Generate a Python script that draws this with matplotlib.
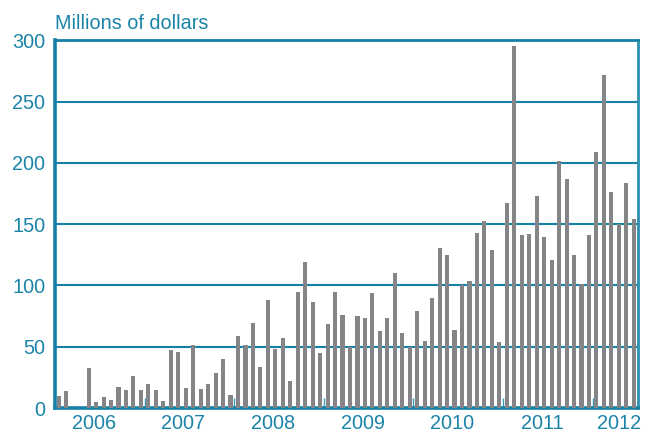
import matplotlib.pyplot as plt
import matplotlib.transforms as mtransforms
import numpy as np

plt.rcParams['font.family'] = ['Liberation Sans', 'DejaVu Sans']

# monthly values, Jan 2006 .. Jun 2012 (millions of dollars)
v2006 = [9.5, 13.6, 0, 0, 33, 4.6, 8.7, 6.3, 17, 14.7, 26, 15]
v2007 = [19.4, 14.5, 5.4, 47, 45.5, 16, 51.7, 15.8, 19.9, 28.8, 40.3, 10.9]
v2008 = [59, 51.7, 69.7, 33.7, 88.5, 47.9, 57.4, 22.3, 95, 119.5, 86.3, 45.2]
v2009 = [68.9, 94.3, 75.7, 49.8, 74.9, 73.3, 93.7, 62.6, 73.3, 110, 61, 49.8]
v2010 = [79, 54.5, 89.6, 130.5, 124.7, 63.5, 100.2, 103.3, 142.5, 152.8, 129.1, 54.1]
v2011 = [167.5, 295.5, 141.4, 142.2, 173.2, 139.7, 121, 201.7, 187, 125, 101.4, 141.4]
v2012 = [209, 271.9, 176.4, 150.3, 183.8, 154.4]
years = ['2006', '2007', '2008', '2009', '2010', '2011', '2012']
yticks = [0, 50, 100, 150, 200, 250, 300]

values = v2006 + v2007 + v2008 + v2009 + v2010 + v2011 + v2012
months = np.arange(len(values)) + 0.5

teal = '#1581a6'
txt = '#1a84a8'
grey = '#858588'

fig = plt.figure(figsize=(6.45, 4.34), dpi=100)
ax = fig.add_axes([0.0853, 0.0599, 0.9031, 0.8468])

ax.bar(months, values, width=0.55, color=grey, zorder=3)

ax.set_xlim(0, len(values))
ax.set_ylim(0, 300)
ax.set_yticks(yticks)
ax.set_yticklabels([str(t) for t in yticks])
for t in yticks[1:-1]:
    ax.axhline(t, color=teal, lw=1.5, zorder=1)

# year boundaries as small inward ticks
ax.set_xticks([12 * i for i in range(1, 7)])
ax.set_xticklabels([])
ax.tick_params(axis='x', direction='in', length=7.5, width=1, color='#3d9cbc')
ax.tick_params(axis='y', length=0, pad=7, labelsize=14.3, labelcolor=txt)

# year labels near the bottom edge of the figure
trans = mtransforms.blended_transform_factory(ax.transData, fig.transFigure)
label_pos = [5.2 + 12 * i for i in range(6)] + [72 + 3.5]
for x, yr in zip(label_pos, years):
    ax.text(x, 1 / 434, yr, transform=trans, ha='center', va='bottom',
            fontsize=14.3, color=txt)

for side in ['left', 'bottom']:
    ax.spines[side].set_color(teal)
    ax.spines[side].set_linewidth(2.6)
for side in ['top', 'right']:
    ax.spines[side].set_color(teal)
    ax.spines[side].set_linewidth(2)
ax.spines['right'].set_color('#2a90b2')

fig.text(55 / 645, 1 - 29 / 434, 'Millions of dollars', ha='left', va='baseline',
         fontsize=14.3, color=txt)

fig.savefig('out.png', dpi=100)
